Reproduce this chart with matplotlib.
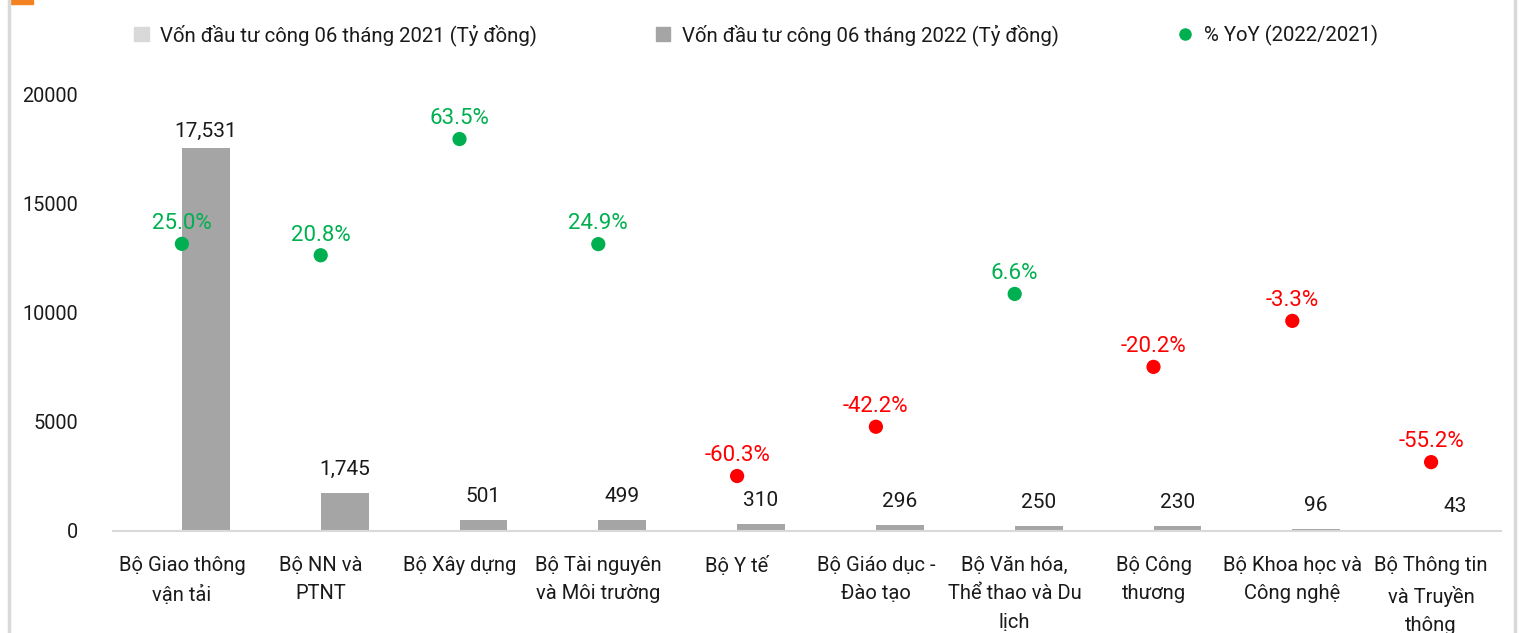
import numpy as np
import matplotlib.pyplot as plt
from matplotlib.patches import Patch, Rectangle
from matplotlib.lines import Line2D

plt.rcParams['font.family'] = ['Roboto', 'DejaVu Sans']

categories = ['Bộ Giao thông\nvận tải', 'Bộ NN và\nPTNT', 'Bộ Xây dựng',
              'Bộ Tài nguyên\nvà Môi trường', 'Bộ Y tế', 'Bộ Giáo dục -\nĐào tạo',
              'Bộ Văn hóa,\nThể thao và Du\nlịch', 'Bộ Công\nthương',
              'Bộ Khoa học và\nCông nghệ', 'Bộ Thông tin\nvà Truyền\nthông']
von_2022 = [17531, 1745, 501, 499, 310, 296, 250, 230, 96, 43]
yoy = [25.0, 20.8, 63.5, 24.9, -60.3, -42.2, 6.6, -20.2, -3.3, -55.2]

c2021 = '#D9D9D9'
c2022 = '#A5A5A5'
green = '#00B050'
red = '#FF0000'

fig = plt.figure(figsize=(15.34, 6.33), dpi=100)
ax = fig.add_axes([112.5 / 1534, 1 - 531 / 633, 1388 / 1534, 437 / 633])

x = np.arange(len(categories))
w = 0.345
bars = ax.bar(x + w / 2, von_2022, width=w, color=c2022, zorder=2)
for b, v in zip(bars, von_2022):
    off = 5 if v > 15000 else 10
    ax.annotate(f'{v:,}', (b.get_x() + b.get_width() / 2, v), xytext=(0, off),
                textcoords='offset points', ha='center', va='bottom', fontsize=15, color='#1a1a1a')

ax.set_xlim(-0.5, len(categories) - 0.5)
ax.set_ylim(0, 20000)
ax.set_yticks([0, 5000, 10000, 15000, 20000])
ax.set_xticks(x)
ax.set_xticklabels(categories, fontsize=14.5, color='#1a1a1a', linespacing=1.62)
ax.tick_params(axis='both', length=0, colors='#1a1a1a')
ax.tick_params(axis='y', labelsize=14.3, pad=25)
ax.tick_params(axis='x', pad=18)
for s in ['top', 'right', 'left']:
    ax.spines[s].set_visible(False)
ax.spines['bottom'].set_color('#D9D9D9')
ax.spines['bottom'].set_linewidth(1.5)

ax2 = ax.twinx()
ax2.set_ylim(-80.5, 80.05)
ax2.axis('off')
cols = [green if v >= 0 else red for v in yoy]
ax2.scatter(x, yoy, s=85, color=cols, zorder=3)
for xi, v, c in zip(x, yoy, cols):
    ax2.annotate(f'{v:.1f}%', (xi, v), xytext=(0, 7), textcoords='offset points',
                 ha='center', va='bottom', fontsize=16, color=c)

handles = [Patch(color=c2021), Patch(color=c2022),
           Line2D([], [], marker='o', linestyle='', color=green, markersize=8)]
labels = ['Vốn đầu tư công 06 tháng 2021 (Tỷ đồng)', 'Vốn đầu tư công 06 tháng 2022 (Tỷ đồng)',
          '% YoY (2022/2021)']
fig.legend(handles, labels, loc='center left', bbox_to_anchor=(116 / 1534, 1 - 35 / 633),
           ncol=3, frameon=False, fontsize=14.7, handlelength=0.7, handleheight=0.7,
           handletextpad=0.55, columnspacing=5.85, labelcolor='#1a1a1a')

# frame lines and orange tag
fig.add_artist(Line2D([9 / 1534, 9 / 1534], [0, 1], color='#D9D9D9', lw=2.5))
fig.add_artist(Line2D([1515 / 1534, 1515 / 1534], [0, 1], color='#D9D9D9', lw=2.5))
fig.add_artist(Rectangle((9 / 1534, 1 - 4 / 633), 24 / 1534, 4 / 633, color='#F58220',
                         transform=fig.transFigure))

fig.savefig('out.png', dpi=100)
